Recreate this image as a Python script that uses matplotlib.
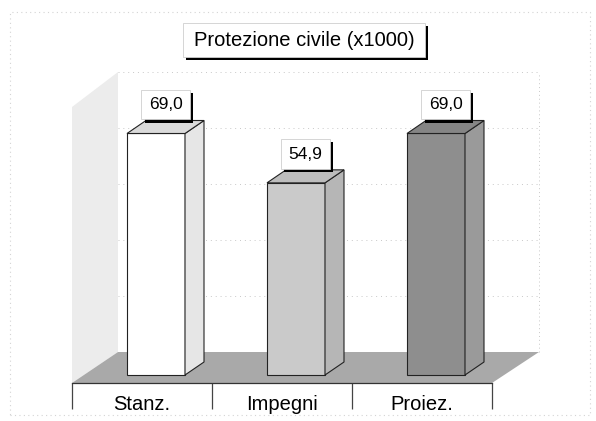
"""Faux-3D bar chart: Protezione civile (x1000)."""

import matplotlib

matplotlib.use("Agg")
import matplotlib.patheffects as pe
import matplotlib.pyplot as plt
from matplotlib.patches import Polygon, Rectangle

categories = ["Stanz.", "Impegni", "Proiez."]
values = [69.0, 54.9, 69.0]
value_labels = ["69,0", "54,9", "69,0"]
title = "Protezione civile (x1000)"
grid_values = [20, 40, 60, 80, 100]

W, H = 596, 421
PX_X = 140.0  # pixels per category
PX_Y = 3.5    # pixels per value unit

front_colors = ["#ffffff", "#cacaca", "#8e8e8e"]
side_colors = ["#e6e6e6", "#b6b6b6", "#9a9a9a"]
top_colors = ["#dadada", "#bdbdbd", "#858585"]

plt.rcParams["font.family"] = ["Liberation Sans", "DejaVu Sans"]


def fig_px(x, y):
    """pixel (from top-left) -> figure fraction"""
    return x / W, 1 - y / H


def main() -> None:
    fig = plt.figure(figsize=(W / 100, H / 100), dpi=100)
    ax = fig.add_axes([72 / W, 38 / H, 420 / W, 383 / H])
    ax.set_xlim(0, len(categories))
    ax.set_ylim(0, 383 / PX_Y)
    ax.patch.set_visible(False)

    # faint scan frame
    x0, y0 = fig_px(10, 415)
    x1, y1 = fig_px(590, 12)
    fig.patches.append(Rectangle((x0, y0), x1 - x0, y1 - y0, transform=fig.transFigure,
                                 fill=False, ec="#d4d4d4", lw=0.8, ls=(0, (1, 3))))

    # floor, walls
    back_y = 31 / PX_Y
    back_l = 46 / PX_X
    back_r = 3 + 47 / PX_X
    wall_top = back_y + grid_values[-1] * 0.8
    ax.add_patch(Polygon([(0, 0), (0, 276 / PX_Y), (back_l, wall_top), (back_l, back_y)],
                         closed=True, fc="#ececec", ec="none", clip_on=False, zorder=1))
    ax.add_patch(Polygon([(0, 0), (3, 0), (back_r, back_y), (back_l, back_y)],
                         closed=True, fc="#a9a9a9", ec="none", clip_on=False, zorder=2))
    for g in grid_values:
        yy = back_y + g * 0.8
        ax.plot([back_l, back_r], [yy, yy], color="#c8c8c8", lw=0.7,
                ls=(0, (1, 4)), clip_on=False, zorder=1)
    ax.plot([back_r, back_r], [back_y, wall_top], color="#c8c8c8", lw=0.7,
            ls=(0, (1, 3)), clip_on=False, zorder=1)

    # bars
    bw = 58 / PX_X
    dx, dy = 19 / PX_X, 13 / PX_Y
    base = 8 / PX_Y
    shadow = [pe.SimplePatchShadow(offset=(2.3, -2.3), shadow_rgbFace="black", alpha=1.0),
              pe.Normal()]
    for i, v in enumerate(values):
        left = i + 55 / PX_X
        right = left + bw
        top = base + v
        kw = dict(closed=True, ec="#222222", lw=0.8, clip_on=False, zorder=3)
        ax.add_patch(Polygon([(left, base), (right, base), (right, top), (left, top)],
                             fc=front_colors[i], **kw))
        ax.add_patch(Polygon([(right, base), (right + dx, base + dy), (right + dx, top + dy), (right, top)],
                             fc=side_colors[i], **kw))
        ax.add_patch(Polygon([(left, top), (right, top), (right + dx, top + dy), (left + dx, top + dy)],
                             fc=top_colors[i], **kw))

        lx = left + bw / 2 + dx / 2
        ly = top + dy
        t = ax.annotate(value_labels[i], (lx, ly), xytext=(0, 6),
                        textcoords="offset points", ha="center", va="bottom",
                        fontsize=12.5, color="black", zorder=5, annotation_clip=False,
                        bbox=dict(boxstyle="square,pad=0.42", fc="white", ec="#cfcfcf", lw=0.6))
        t.get_bbox_patch().set_path_effects(shadow)

    # axis
    for side in ("top", "right", "left"):
        ax.spines[side].set_visible(False)
    ax.spines["bottom"].set_color("#333333")
    ax.spines["bottom"].set_linewidth(0.9)
    ax.spines["bottom"].set_zorder(4)
    ax.set_yticks([])
    ax.set_xticks(range(len(categories) + 1))
    ax.set_xticklabels([])
    ax.tick_params(axis="x", which="major", direction="out", length=19, width=0.9, color="#444444")
    ax.set_xticks([i + 0.5 for i in range(len(categories))], minor=True)
    ax.set_xticklabels(categories, minor=True, fontsize=14.5)
    ax.tick_params(axis="x", which="minor", length=0, pad=9)

    # title box with shadow
    bx0, by0 = fig_px(183, 57)
    bx1, by1 = fig_px(425, 23)
    sx, sy = 3 / W, 3 / H
    fig.patches.append(Rectangle((bx0 + sx, by0 - sy), bx1 - bx0, by1 - by0,
                                 transform=fig.transFigure, fc="black", ec="none", zorder=5))
    fig.patches.append(Rectangle((bx0, by0), bx1 - bx0, by1 - by0, transform=fig.transFigure,
                                 fc="white", ec="#cfcfcf", lw=0.6, zorder=6))
    fig.text((bx0 + bx1) / 2, (by0 + by1) / 2, title, ha="center", va="center",
             fontsize=14.5, zorder=7)

    fig.savefig("out.png", dpi=100)


if __name__ == "__main__":
    main()
